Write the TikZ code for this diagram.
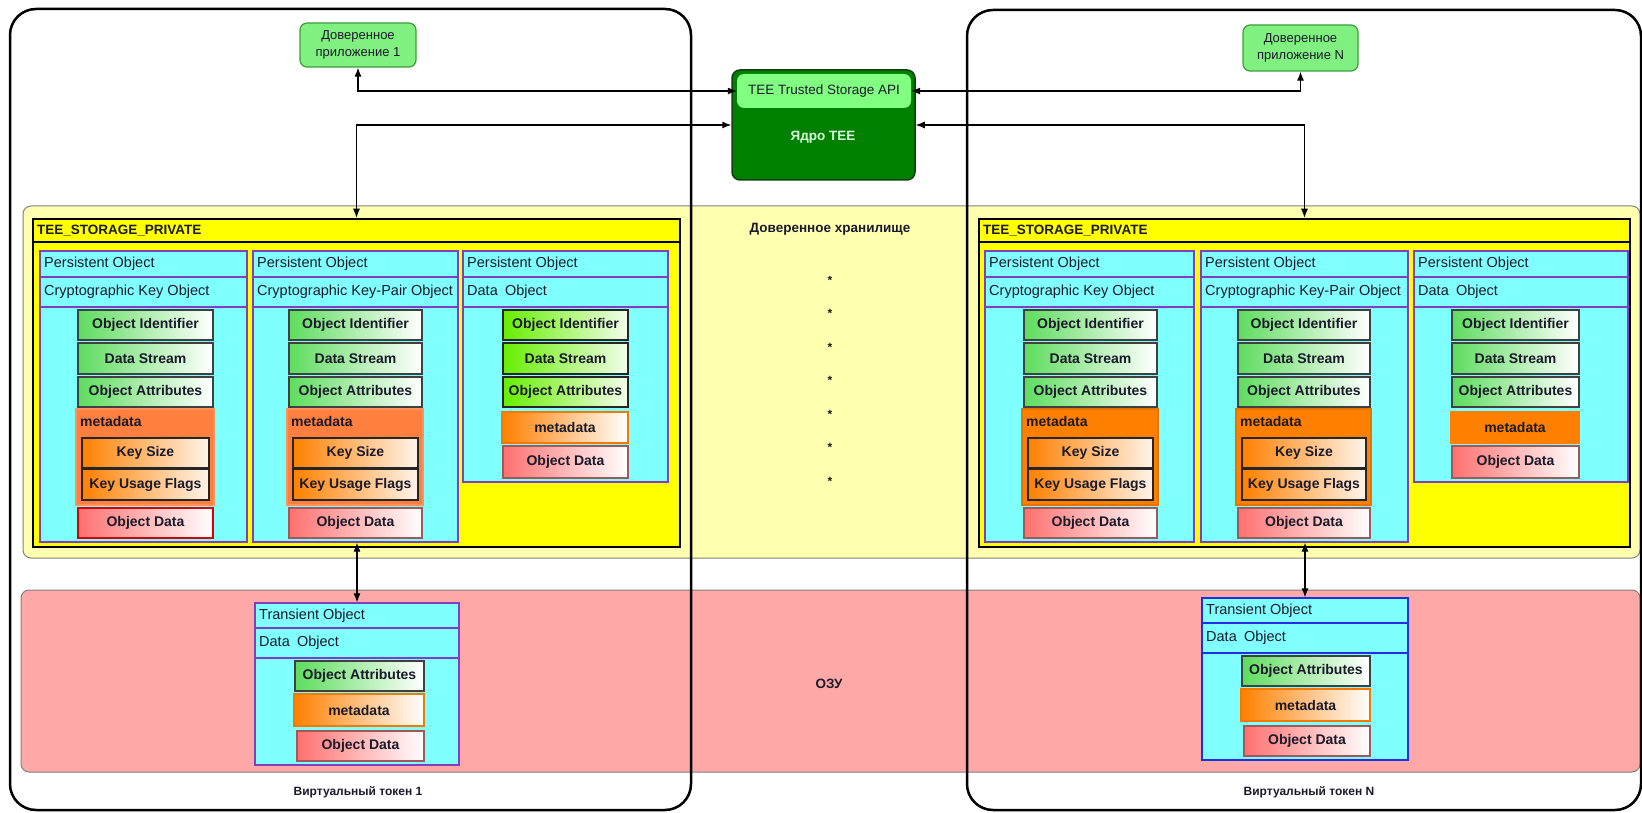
\documentclass[tikz,border=0pt]{standalone}
\usepackage{fontspec}
\setmainfont{Liberation Sans}
\usetikzlibrary{arrows.meta,fit}
\definecolor{txt}{HTML}{1A1A2A}
\definecolor{ylw}{HTML}{FFFFB0}
\definecolor{pnk}{HTML}{FFA8A8}
\definecolor{bandedge}{HTML}{808080}
\definecolor{cyn}{HTML}{80FFFF}
\definecolor{pur}{HTML}{7F3FBF}
\definecolor{grn}{HTML}{5EDC5E}
\definecolor{lime}{HTML}{66EE00}
\definecolor{orgL}{HTML}{FF7F3F}
\definecolor{org}{HTML}{FF8000}
\definecolor{red1}{HTML}{FF7070}
\definecolor{odedge}{HTML}{A05858}
\definecolor{appg}{HTML}{80F080}
\definecolor{appedge}{HTML}{3C9C3C}
\definecolor{corefill}{HTML}{008000}
\definecolor{coreedge}{HTML}{104010}
\definecolor{apifill}{HTML}{80FF80}
\definecolor{coretxt}{HTML}{D8FFD8}
\definecolor{blu}{HTML}{2030E0}
\definecolor{tspyel}{HTML}{FFFF00}

% box with centred label: style, name, x1, y1, x2, y2, text
\newcommand\bx[7]{%
  \node[#1, fit={(#3,#4)(#5,#6)}] (#2) {};
  \node[boxlabel] (#2T) at (#2.center) {#7};
}
\newcommand\keycol[8]{%
  \node[colbox, fit={(#2,251)(#3,542)}] (#1) {};
  \draw[coldiv] (#2,277) -- (#3,277) (#2,307) -- (#3,307);
  \node[hdr, anchor=west] (#1h1) at (#2+4,264) {Persistent Object};
  \node[hdr, anchor=west] (#1h2) at (#2+4,292) {#6};
  \bx{gbox}{#1oi}{#4}{310}{#5}{340}{Object Identifier}
  \bx{gbox}{#1ds}{#4}{343}{#5}{374}{Data Stream}
  \bx{gbox}{#1oa}{#4}{377}{#5}{407}{Object Attributes}
  \node[#7, fit={(#4-2,409)(#5+1,505)}] (#1md) {};
  \node[boxlabel, anchor=west] (#1mdl) at (#4+2,421) {metadata};
  \bx{obox}{#1ks}{#4+4}{438}{#5-4}{468}{Key Size}
  \bx{obox}{#1kf}{#4+4}{469}{#5-4}{500}{Key Usage Flags}
  \bx{#8}{#1od}{#4}{508}{#5}{538}{Object Data}
}
\newcommand\datacol[7]{%
  \node[colbox, fit={(#2,251)(#3,482)}] (#1) {};
  \draw[coldiv] (#2,277) -- (#3,277) (#2,307) -- (#3,307);
  \node[hdr, anchor=west] (#1h1) at (#2+4,264) {Persistent Object};
  \node[hdr, anchor=west] (#1h2) at (#2+4,292) {Data\enspace Object};
  \bx{#7}{#1oi}{#4}{310}{#5}{340}{Object Identifier}
  \bx{#7}{#1ds}{#4}{343}{#5}{374}{Data Stream}
  \bx{#7}{#1oa}{#4}{377}{#5}{407}{Object Attributes}
  \bx{#6}{#1md}{#4-1}{412}{#5}{443}{metadata}
  \bx{odbox}{#1od}{#4}{446}{#5}{478}{Object Data}
}
\newcommand\trcol[8]{%
  \node[colbox, draw=#7, fit={(#2,#4)(#3,#4+162)}] (#1) {};
  \draw[coldiv, draw=#7] (#2,#4+25) -- (#3,#4+25) (#2,#4+55) -- (#3,#4+55);
  \node[hdr, anchor=west] (#1h1) at (#2+4,#4+13) {Transient Object};
  \node[hdr, anchor=west] (#1h2) at (#2+4,#4+40) {Data\enspace Object};
  \bx{gbox}{#1oa}{#5}{#4+58}{#6}{#4+88}{Object Attributes}
  \bx{#8}{#1md}{#5-1}{#4+91}{#6}{#4+123}{metadata}
  \bx{odbox}{#1od}{#5+2}{#4+128}{#6}{#4+158}{Object Data}
}

\begin{document}
\begin{tikzpicture}[x=1pt,y=-1pt,
  bf12/.style={font=\fontsize{12}{14}\selectfont\bfseries},
  bf135/.style={font=\fontsize{13.5}{16}\selectfont\bfseries},
  band/.style={draw=bandedge, line width=1pt, rounded corners=8pt, inner sep=0},
  panel/.style={draw=black, line width=2.5pt, rounded corners=26pt, inner sep=0},
  tspbox/.style={draw=black, line width=2.5pt, fill=tspyel, inner sep=0},
  colbox/.style={draw=pur, line width=1.2pt, fill=cyn, inner sep=0},
  coldiv/.style={draw=pur, line width=1.2pt},
  hdr/.style={font=\fontsize{14.5}{16}\selectfont, text=txt, inner sep=0},
  blabel/.style={bf135, text=txt, inner sep=0},
  boxlabel/.style={font=\fontsize{14}{16}\selectfont\bfseries, text=txt, inner sep=0},
  boxbase/.style={inner sep=0, line width=1.3pt},
  gbox/.style={boxbase, draw=black!75, left color=grn, right color=white},
  lbox/.style={boxbase, draw=black!85, left color=lime, right color=white!92!lime},
  obox/.style={boxbase, draw=black!85, left color=org, right color=white!92!orange},
  mdL/.style={inner sep=0, fill=orgL, draw=orgL!85!white, line width=1.3pt},
  mdR/.style={inner sep=0, fill=org, draw=org!90!black, line width=1.3pt},
  mdgrad/.style={boxbase, draw=org!95!black, line width=1.6pt, left color=org, right color=white},
  mdsolid/.style={boxbase, fill=org, draw=org},
  odbox/.style={boxbase, draw=odedge, left color=red1, right color=white},
  odred/.style={boxbase, draw=red!85!black, line width=2pt, left color=red1, right color=white},
  appbox/.style={draw=appedge, line width=1.2pt, fill=appg, rounded corners=7pt, inner sep=0},
  arr/.style={{Latex[length=9pt,width=7pt]}-{Latex[length=9pt,width=7pt]}, line width=1.1pt, draw=black}
]
\useasboundingbox (0,0) rectangle (1642,813);

% bands
\node[band, fill=ylw, fit={(23,206)(1640,558)}] (store) {};
\node[band, fill=pnk, fit={(21,590)(1640,772)}] (ram) {};
\node[blabel] (storelbl) at (830,229) {Доверенное хранилище};
\foreach \i/\yy in {1/280,2/313,3/347,4/380,5/414,6/447,7/481}
  \node[font=\fontsize{12}{12}\selectfont\bfseries, text=txt] (star\i) at (830,\yy) {*};
\node[blabel] (ramlbl) at (829,684) {ОЗУ};

% virtual token panels
\node[panel, fit={(10,9)(691,810)}] (vt1) {};
\node[panel, fit={(967,10)(1641,810)}] (vtN) {};
\node[bf12, text=txt] (vt1lbl) at (358,792) {Виртуальный токен 1};
\node[bf12, text=txt] (vtNlbl) at (1309,792) {Виртуальный токен N};

% trusted applications
\node[appbox, fit={(300,23)(416,67)}] (app1) {};
\node[align=center, text=txt, font=\fontsize{13}{17}\selectfont, inner sep=0] (app1T) at (app1.center) {Доверенное\\приложение 1};
\node[appbox, fit={(1243,25)(1358,71)}] (appN) {};
\node[align=center, text=txt, font=\fontsize{13}{17}\selectfont, inner sep=0] (appNT) at (appN.center) {Доверенное\\приложение N};

% TEE core
\node[draw=coreedge, line width=1.5pt, fill=corefill, rounded corners=8pt, inner sep=0, fit={(732,70)(915,180)}] (core) {};
\node[fill=apifill, rounded corners=7pt, inner sep=0, fit={(737,74)(911,108)}] (api) {};
\node[font=\fontsize{13.5}{15}\selectfont, text=txt] (apilbl) at (api.center) {TEE Trusted Storage API};
\node[bf135, text=coretxt] (corelbl) at (823,137) {Ядро TEE};

% TEE_STORAGE_PRIVATE left
\node[tspbox, fit={(33,219)(680,547)}] (tsp1) {};
\draw[line width=2.2pt] (33,242) -- (680,242);
\node[blabel, anchor=west] (tsp1lbl) at (37,231) {TEE\_STORAGE\_PRIVATE};
\keycol{k1}{40}{247}{78}{213}{Cryptographic Key Object}{mdL}{odred}
\keycol{kp1}{253}{458}{289}{422}{Cryptographic Key-Pair Object}{mdL}{odbox}
\datacol{d1}{463}{668}{503}{628}{mdgrad}{lbox}

% TEE_STORAGE_PRIVATE right
\node[tspbox, fit={(979,219)(1630,547)}] (tspN) {};
\draw[line width=2.2pt] (979,242) -- (1630,242);
\node[blabel, anchor=west] (tspNlbl) at (983,231) {TEE\_STORAGE\_PRIVATE};
\keycol{kN}{985}{1194}{1024}{1157}{Cryptographic Key Object}{mdR}{odbox}
\keycol{kpN}{1201}{1408}{1238}{1370}{Cryptographic Key-Pair Object}{mdR}{odbox}
\datacol{dN}{1414}{1628}{1452}{1579}{mdsolid}{gbox}

% transient objects
\trcol{t1}{255}{459}{603}{295}{424}{pur}{mdgrad}
\trcol{tN}{1202}{1408}{598}{1242}{1370}{blu}{mdgrad}

% connectors
\draw[arr] (app1.south) |- (api.west);
\draw[arr] (appN.south) |- (api.east);
\draw[arr] (core.west) -| (tsp1.north);
\draw[arr] (core.east) -| (tspN.north);
\draw[arr] (kp1.south -| t1.north) -- (t1.north);
\draw[arr] (kpN.south -| tN.north) -- (tN.north);
\end{tikzpicture}
\end{document}
